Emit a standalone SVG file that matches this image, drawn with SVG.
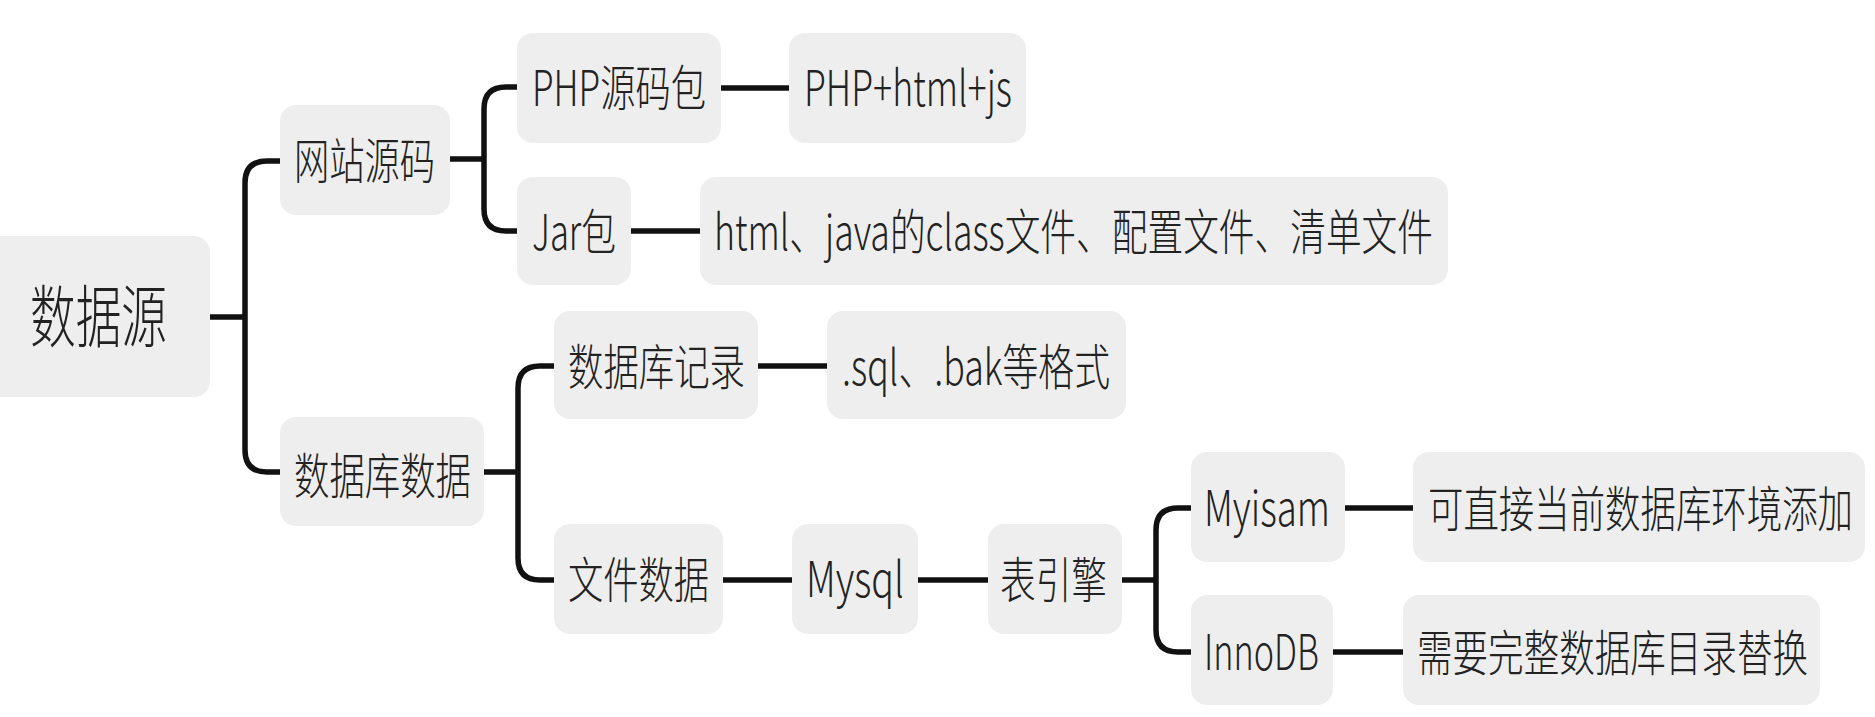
<svg xmlns="http://www.w3.org/2000/svg" width="1875" height="717" viewBox="0 0 1875 717">
<style>
.box{fill:#eeeeee}
.t{font-family:"Noto Sans CJK SC","Noto Sans",sans-serif;font-size:49px;font-weight:300;fill:#222222}
.root{font-size:68px}
.s{font-size:37px}
.c{fill:none;stroke:#111111;stroke-width:5.5;stroke-linecap:butt}
</style>
<rect width="1875" height="717" fill="#ffffff"/>
<g id="connectors">
<path class="c" d="M210,317 H245 M280,161 H267 Q245,161 245,183 V450 Q245,472 267,472 H280"/>
<path class="c" d="M450,159 H484 M517,87 H506 Q484,87 484,109 V209 Q484,231 506,231 H517"/>
<path class="c" d="M721,88 H789"/>
<path class="c" d="M631,231 H700"/>
<path class="c" d="M484,472 H518 M554,366 H540 Q518,366 518,388 V558 Q518,580 540,580 H554"/>
<path class="c" d="M758,366 H827"/>
<path class="c" d="M723,580 H792"/>
<path class="c" d="M918,580 H988"/>
<path class="c" d="M1122,580 H1156 M1191,508 H1178 Q1156,508 1156,530 V630 Q1156,652 1178,652 H1191"/>
<path class="c" d="M1345,508 H1413"/>
<path class="c" d="M1333,652 H1403"/>
</g>
<g id="n-root"><rect class="box" x="-15" y="236" width="225" height="161" rx="16"/><text class="t root" x="30" y="342" textLength="137" lengthAdjust="spacingAndGlyphs">数据源</text></g>
<g id="n-web"><rect class="box" x="280" y="105" width="170" height="110" rx="16"/><text class="t" x="294" y="179" textLength="141" lengthAdjust="spacingAndGlyphs">网站源码</text></g>
<g id="n-php"><rect class="box" x="517" y="33" width="204" height="110" rx="16"/><text class="t" x="532" y="106" textLength="174" lengthAdjust="spacingAndGlyphs">PHP源码包</text></g>
<g id="n-phpjs"><rect class="box" x="789" y="33" width="237" height="110" rx="16"/><text class="t" x="804" y="106" textLength="208" lengthAdjust="spacingAndGlyphs">PHP+html+js</text></g>
<g id="n-jar"><rect class="box" x="517" y="177" width="114" height="108" rx="16"/><text class="t" x="532" y="250" textLength="84" lengthAdjust="spacingAndGlyphs">Jar包</text></g>
<g id="n-jarc"><rect class="box" x="700" y="177" width="748" height="108" rx="16"/><text class="t" x="714" y="250" textLength="719" lengthAdjust="spacingAndGlyphs">html、java的class文件、配置文件、清单文件</text></g>
<g id="n-db"><rect class="box" x="280" y="417" width="204" height="109" rx="16"/><text class="t" x="294" y="494" textLength="177" lengthAdjust="spacingAndGlyphs">数据库数据</text></g>
<g id="n-rec"><rect class="box" x="554" y="311" width="204" height="108" rx="16"/><text class="t" x="568" y="385" textLength="177" lengthAdjust="spacingAndGlyphs">数据库记录</text></g>
<g id="n-sql"><rect class="box" x="827" y="311" width="299" height="108" rx="16"/><text class="t" x="842" y="385" textLength="268" lengthAdjust="spacingAndGlyphs">.sql、.bak等格式</text></g>
<g id="n-file"><rect class="box" x="554" y="524" width="169" height="110" rx="16"/><text class="t" x="568" y="598" textLength="141" lengthAdjust="spacingAndGlyphs">文件数据</text></g>
<g id="n-mysql"><rect class="box" x="792" y="524" width="126" height="110" rx="16"/><text class="t" x="806" y="597" textLength="98" lengthAdjust="spacingAndGlyphs">Mysql</text></g>
<g id="n-engine"><rect class="box" x="988" y="524" width="134" height="110" rx="16"/><text class="t" x="1000" y="598" textLength="107" lengthAdjust="spacingAndGlyphs">表引擎</text></g>
<g id="n-myisam"><rect class="box" x="1191" y="452" width="154" height="110" rx="16"/><text class="t" x="1204" y="526" textLength="126" lengthAdjust="spacingAndGlyphs">Myisam</text></g>
<g id="n-myisamd"><rect class="box" x="1413" y="452" width="452" height="110" rx="16"/><text class="t s" transform="translate(1428,527) scale(1,1.32)" x="0" y="0" textLength="425" lengthAdjust="spacingAndGlyphs">可直接当前数据库环境添加</text></g>
<g id="n-innodb"><rect class="box" x="1191" y="595" width="142" height="110" rx="16"/><text class="t" x="1204" y="670" textLength="115" lengthAdjust="spacingAndGlyphs">InnoDB</text></g>
<g id="n-innodbd"><rect class="box" x="1403" y="595" width="417" height="110" rx="16"/><text class="t s" transform="translate(1417,671) scale(1,1.32)" x="0" y="0" textLength="391" lengthAdjust="spacingAndGlyphs">需要完整数据库目录替换</text></g>
</svg>
